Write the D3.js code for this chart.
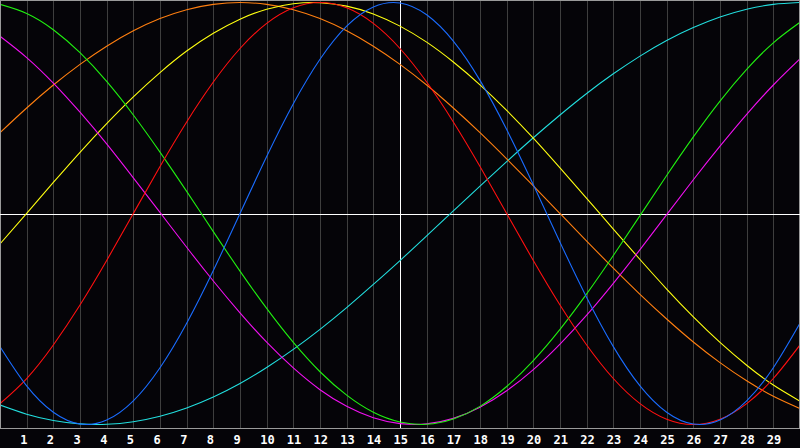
<!DOCTYPE html>
<html>
<head>
<meta charset="utf-8">
<script src="https://cdn.jsdelivr.net/npm/d3@7/dist/d3.min.js"></script>
<style>
  html, body { margin: 0; padding: 0; background: #050408; }
  svg { display: block; }
</style>
</head>
<body>
<div id="chart"></div>
<script>
// days shown on the chart (0..30), tick labels 1..29
const days = d3.range(0, 31);
const dayLabels = d3.range(1, 30);
const markedDay = 15;

// curve values per day (-1 .. 1)
const physical = [-0.631, -0.817, -0.942, -0.998, -0.979, -0.888, -0.731, -0.520, -0.270, 0.000,
  0.270, 0.520, 0.731, 0.888, 0.979, 0.998, 0.942, 0.817, 0.631, 0.398,
  0.136, -0.136, -0.398, -0.631, -0.817, -0.942, -0.998, -0.979, -0.888, -0.731, -0.520];
const emotional = [-0.901, -0.782, -0.623, -0.434, -0.223, 0.000, 0.223, 0.434, 0.623, 0.782,
  0.901, 0.975, 1.000, 0.975, 0.901, 0.782, 0.623, 0.434, 0.223, 0.000,
  -0.223, -0.434, -0.623, -0.782, -0.901, -0.975, -1.000, -0.975, -0.901, -0.782, -0.623];
const intellectual = [0.991, 0.948, 0.871, 0.762, 0.626, 0.467, 0.291, 0.105, -0.086, -0.273,
  -0.450, -0.611, -0.750, -0.861, -0.942, -0.988, -0.999, -0.974, -0.914, -0.820,
  -0.697, -0.549, -0.381, -0.199, -0.010, 0.180, 0.363, 0.533, 0.683, 0.809, 0.906];
const intuitive = [0.840, 0.739, 0.618, 0.480, 0.330, 0.169, 0.005, -0.160, -0.320, -0.471,
  -0.610, -0.732, -0.835, -0.914, -0.968, -0.996, -0.997, -0.971, -0.918, -0.840,
  -0.740, -0.619, -0.482, -0.331, -0.171, -0.005, 0.160, 0.319, 0.470, 0.609, 0.733];
const aesthetic = [-0.144, 0.001, 0.147, 0.290, 0.426, 0.553, 0.668, 0.770, 0.854, 0.921,
  0.968, 0.994, 0.999, 0.983, 0.946, 0.888, 0.812, 0.718, 0.610, 0.489,
  0.357, 0.216, 0.072, -0.074, -0.218, -0.358, -0.490, -0.611, -0.719, -0.813, -0.889];
const awareness = [0.383, 0.500, 0.609, 0.707, 0.793, 0.866, 0.924, 0.966, 0.991, 1.000,
  0.991, 0.966, 0.924, 0.866, 0.793, 0.707, 0.609, 0.500, 0.383, 0.259,
  0.131, 0.000, -0.131, -0.259, -0.383, -0.500, -0.609, -0.707, -0.793, -0.866, -0.924];
const spiritual = [-0.908, -0.951, -0.981, -0.997, -0.999, -0.987, -0.961, -0.922, -0.870, -0.806,
  -0.730, -0.644, -0.549, -0.446, -0.336, -0.223, -0.106, 0.012, 0.130, 0.246,
  0.359, 0.467, 0.569, 0.662, 0.746, 0.820, 0.881, 0.931, 0.968, 0.991, 1.000];

const seriesList = [
  { name: "spiritual", values: spiritual, colour: "#22dede" },
  { name: "awareness", values: awareness, colour: "#ff7f10" },
  { name: "aesthetic", values: aesthetic, colour: "#ffff10" },
  { name: "intuitive", values: intuitive, colour: "#f010f0" },
  { name: "intellectual", values: intellectual, colour: "#20f010" },
  { name: "emotional", values: emotional, colour: "#ff1010" },
  { name: "physical", values: physical, colour: "#1a6cff" }
];

const width = 800;
const height = 448;
const plotBottom = 428;

const svg = d3.select("#chart").append("svg")
  .attr("width", width)
  .attr("height", height);

svg.append("rect")
  .attr("width", width)
  .attr("height", height)
  .attr("fill", "#050408");

const x = d3.scaleLinear()
  .domain([0, 30])
  .range([0, width]);

const y = d3.scaleLinear()
  .domain([-1, 1])
  .range([424.5, 2.5]);

// day grid
svg.append("g")
  .attr("class", "grid")
  .selectAll("line")
  .data(dayLabels)
  .join("line")
  .attr("x1", d => Math.round(x(d)) + 0.5)
  .attr("x2", d => Math.round(x(d)) + 0.5)
  .attr("y1", 0)
  .attr("y2", plotBottom)
  .attr("stroke", d => d === markedDay ? "#ffffff" : "#3e3e3e")
  .attr("stroke-width", 1)
  .attr("shape-rendering", "crispEdges");

// frame
svg.append("rect")
  .attr("x", 0.5)
  .attr("y", 0.5)
  .attr("width", width - 1)
  .attr("height", plotBottom)
  .attr("fill", "none")
  .attr("stroke", "#9a9a9a")
  .attr("shape-rendering", "crispEdges");

// zero line
svg.append("line")
  .attr("x1", 0)
  .attr("x2", width)
  .attr("y1", Math.round(y(0)) + 0.5)
  .attr("y2", Math.round(y(0)) + 0.5)
  .attr("stroke", "#ffffff")
  .attr("shape-rendering", "crispEdges");

const line = d3.line()
  .x((d, i) => x(days[i]))
  .y(d => y(d))
  .curve(d3.curveNatural);

svg.append("defs").append("clipPath")
  .attr("id", "plotClip")
  .append("rect")
  .attr("x", 1)
  .attr("y", 1)
  .attr("width", width - 2)
  .attr("height", plotBottom - 1);

svg.append("g")
  .attr("class", "curves")
  .attr("clip-path", "url(#plotClip)")
  .selectAll("path")
  .data(seriesList)
  .join("path")
  .attr("d", d => line(d.values))
  .attr("fill", "none")
  .attr("stroke", d => d.colour)
  .attr("stroke-width", 1.1);

// day labels, left edge a few px before the grid line
svg.append("g")
  .attr("class", "labels")
  .selectAll("text")
  .data(dayLabels)
  .join("text")
  .attr("x", d => x(d) - 6.5)
  .attr("y", 444)
  .attr("fill", "#ffffff")
  .attr("font-family", "DejaVu Sans Mono, monospace")
  .attr("font-weight", "bold")
  .attr("font-size", 12)
  .text(d => d);
</script>
</body>
</html>
